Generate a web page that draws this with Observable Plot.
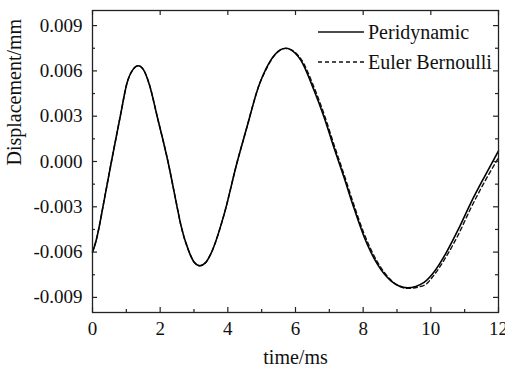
<!DOCTYPE html>
<html>
<head>
<meta charset="utf-8">
<script src="https://cdn.jsdelivr.net/npm/d3@7"></script>
<script src="https://cdn.jsdelivr.net/npm/@observablehq/plot@0.6"></script>
<style>
  body { margin: 0; background: #fff; }
  #wrap { position: relative; width: 505px; height: 370px; }
  #legend { position: absolute; left: 0; top: 0; pointer-events: none; }
</style>
</head>
<body>
<div id="wrap"></div>
<script>
// time in ms
const time = [0, 0.1, 0.2, 0.3, 0.56, 0.83, 1.02, 1.2, 1.35, 1.5, 1.68, 1.91, 2.23, 2.5, 2.61, 2.84, 3.0, 3.17, 3.35, 3.5, 3.89, 4.28, 4.53, 4.93, 5.12, 5.4, 5.71, 6.0, 6.16, 6.55, 6.85, 7.14, 7.44, 7.73, 8.03, 8.42, 8.82, 9.31, 9.8, 10.1, 10.44, 10.8, 11.18, 11.6, 12.0];
// displacement in mm
const peridynamic = [-0.0060, -0.0053, -0.0043, -0.0031, 0.0000, 0.0031, 0.0052, 0.0061, 0.00634, 0.0061, 0.0051, 0.0030, 0.0000, -0.0030, -0.0042, -0.0059, -0.00665, -0.0069, -0.00668, -0.0061, -0.0035, 0.0000, 0.0020, 0.0051, 0.0061, 0.0071, 0.0075, 0.00715, 0.0067, 0.0047, 0.0029, 0.0009, -0.0011, -0.0031, -0.0050, -0.0068, -0.0079, -0.00836, -0.0080, -0.0073, -0.0061, -0.00455, -0.00275, -0.00095, 0.0007];
const eulerBernoulli = [-0.0060, -0.0053, -0.0043, -0.0031, 0.0000, 0.0031, 0.0052, 0.0061, 0.00634, 0.0061, 0.0051, 0.0030, 0.0000, -0.0030, -0.0042, -0.0059, -0.00665, -0.0069, -0.00668, -0.0061, -0.0035, 0.0000, 0.0020, 0.0051, 0.00605, 0.00708, 0.00749, 0.0072, 0.0068, 0.0049, 0.0031, 0.0011, -0.0009, -0.0029, -0.0048, -0.00665, -0.00785, -0.0084, -0.0082, -0.0075, -0.00635, -0.0049, -0.0031, -0.0013, 0.00025];

const seriesNames = ["Peridynamic", "Euler Bernoulli"];
const xMajor = [0, 2, 4, 6, 8, 10, 12];
const xMinor = [1, 3, 5, 7, 9, 11];
const yMajor = [-0.009, -0.006, -0.003, 0.000, 0.003, 0.006, 0.009];
const yMinor = [-0.0075, -0.0045, -0.0015, 0.0015, 0.0045, 0.0075];
const xLabel = "time/ms";
const yLabel = "Displacement/mm";

const peri = time.map((t, i) => ({t, v: peridynamic[i]}));
const eb = time.map((t, i) => ({t, v: eulerBernoulli[i]}));

const font = "'Liberation Serif', 'Times New Roman', serif";
const axisColor = "#222";

const W = 505, H = 370, mL = 92, mR = 7, mT = 10, mB = 58;
const plotW = W - mL - mR, plotH = H - mT - mB;
const majorLen = 5, minorLen = 3;
const tickStyle = {stroke: axisColor, strokeWidth: 1.2};

const chart = Plot.plot({
  width: W,
  height: H,
  marginLeft: mL,
  marginRight: mR,
  marginTop: mT,
  marginBottom: mB,
  style: {fontFamily: font, fontSize: "19px", color: "#111", background: "#fff"},
  x: {domain: [0, 12]},
  y: {domain: [-0.010, 0.010]},
  marks: [
    Plot.line(eb, {x: "t", y: "v", curve: "monotone-x", stroke: "#111", strokeWidth: 1.4, strokeDasharray: "4,3"}),
    Plot.line(peri, {x: "t", y: "v", curve: "monotone-x", stroke: "#000", strokeWidth: 1.6}),
    Plot.frame({stroke: axisColor, strokeWidth: 1.3}),
    // inward ticks: bottom, top, left, right
    Plot.ruleX(xMajor, {x: d => d, insetTop: plotH - majorLen, ...tickStyle}),
    Plot.ruleX(xMinor, {x: d => d, insetTop: plotH - minorLen, ...tickStyle}),
    Plot.ruleX(xMajor, {x: d => d, insetBottom: plotH - majorLen, ...tickStyle}),
    Plot.ruleY(yMajor, {y: d => d, insetRight: plotW - majorLen, ...tickStyle}),
    Plot.ruleY(yMinor, {y: d => d, insetRight: plotW - minorLen, ...tickStyle}),
    Plot.ruleY(yMajor, {y: d => d, insetLeft: plotW - majorLen, ...tickStyle}),
    Plot.ruleY(yMinor, {y: d => d, insetLeft: plotW - minorLen, ...tickStyle}),
    // tick labels
    Plot.axisX({ticks: xMajor, anchor: "bottom", tickSize: 0, tickPadding: 9, tickFormat: d => String(d), label: null, fontSize: 19, fill: "#111"}),
    Plot.axisY({ticks: yMajor, anchor: "left", tickSize: 0, tickPadding: 10, tickFormat: d => d.toFixed(3), label: null, fontSize: 19, fill: "#111"}),
    Plot.text([xLabel], {frameAnchor: "bottom", dy: 51, fontSize: 20, fill: "#111"}),
    Plot.text([yLabel], {frameAnchor: "left", dx: -78, dy: 4, rotate: -90, fontSize: 20, fill: "#111"})
  ]
});

const wrap = document.getElementById("wrap");
wrap.appendChild(chart);

// legend overlay
const ns = "http://www.w3.org/2000/svg";
const leg = document.createElementNS(ns, "svg");
leg.setAttribute("id", "legend");
leg.setAttribute("width", W);
leg.setAttribute("height", H);
const styles = [{dash: null, w: 1.6}, {dash: "4,3", w: 1.4}];
seriesNames.forEach((name, i) => {
  const y = 32 + i * 30;
  const ln = document.createElementNS(ns, "line");
  ln.setAttribute("x1", 318); ln.setAttribute("x2", 364);
  ln.setAttribute("y1", y); ln.setAttribute("y2", y);
  ln.setAttribute("stroke", "#111");
  ln.setAttribute("stroke-width", styles[i].w);
  if (styles[i].dash) ln.setAttribute("stroke-dasharray", styles[i].dash);
  leg.appendChild(ln);
  const tx = document.createElementNS(ns, "text");
  tx.setAttribute("x", 368); tx.setAttribute("y", y);
  tx.setAttribute("dy", "0.35em");
  tx.setAttribute("font-family", font);
  tx.setAttribute("font-size", 20);
  tx.setAttribute("fill", "#111");
  tx.textContent = name;
  leg.appendChild(tx);
});
wrap.appendChild(leg);
</script>
</body>
</html>
